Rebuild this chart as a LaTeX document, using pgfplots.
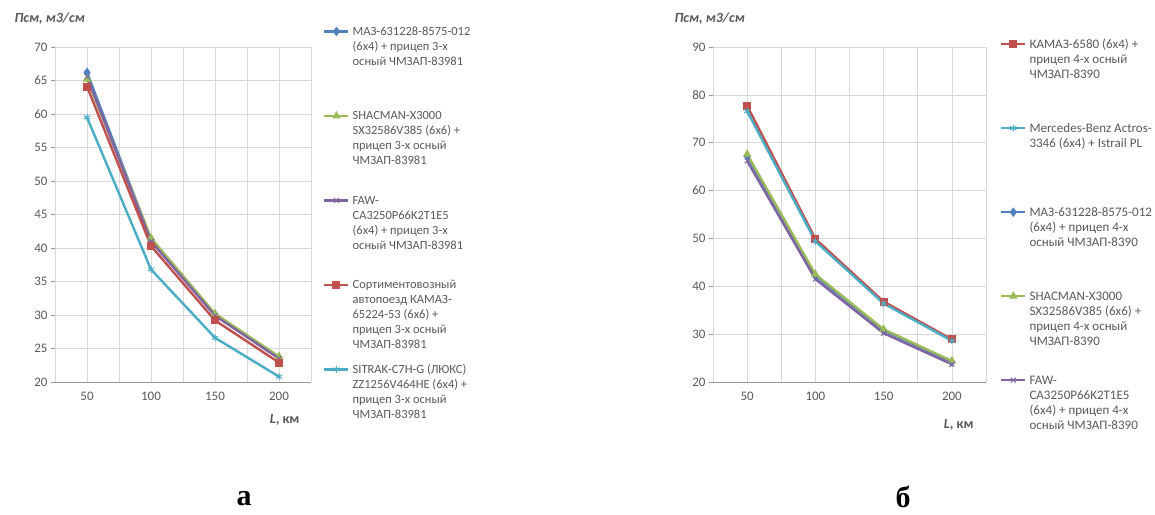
\documentclass[border=0pt]{standalone}
\usepackage{fontspec}
\setmainfont{Carlito}
\newfontfamily\capfont{Liberation Serif}
\usepackage{pgfplots}
\pgfplotsset{compat=1.18}
\definecolor{cblue}{HTML}{4F81BD}
\definecolor{cred}{HTML}{C0504D}
\definecolor{cgreen}{HTML}{9BBB59}
\definecolor{cpurple}{HTML}{8064A2}
\definecolor{caqua}{HTML}{4BACC6}
\definecolor{txt}{HTML}{595959}
\definecolor{gridc}{HTML}{D9D9D9}
\definecolor{axc}{HTML}{969696}
\newcommand\leg[1]{\begin{tabular}[t]{@{}l@{}}#1\end{tabular}}
\pgfplotsset{
  common/.style={
    scale only axis,
    xmin=-0.5, xmax=3.5,
    xtick={0,1,2,3}, xticklabels={50,100,150,200},
    xmajorgrids=true, ymajorgrids=true,
    grid style={draw=gridc, line width=0.6pt},
    xtick style={draw=none},
    extra x ticks={-0.5,0.5,1.5,2.5,3.5},
    extra x tick labels={},
    extra x tick style={grid=major, tick style={draw=axc, line width=0.6pt}},
    ytick style={draw=axc, line width=0.6pt},
    tick align=outside, major tick length=4pt,
    axis lines*=left,
    axis line style={draw=axc, line width=0.7pt, -},
    tick label style={font=\fontsize{13}{14}\selectfont, color=txt},
    xticklabel style={yshift=-3pt},
    /pgf/number format/assume math mode=true,
    legend cell align=left,
    every axis plot/.append style={line width=2.4pt, mark options={solid, line width=1pt}},
  }
}
\begin{document}
\begin{tikzpicture}
\path (0pt,0pt) rectangle (1155pt,-514pt);
% ---------- chart a ----------
\begin{axis}[common,
  at={(55pt,-382pt)}, anchor=south west,
  width=256pt, height=335pt,
  ymin=20, ymax=70, ytick={20,25,...,70},
  legend style={at={(1.047,1.059)}, anchor=north west, draw=none, fill=none,
    row sep=76.5pt, inner sep=0pt, column sep=3pt,
    nodes={inner sep=0pt, text height=8pt, text depth=0pt},
    font=\fontsize{12.5}{15}\selectfont\color{txt}},
  legend image code/.code={\draw[mark repeat=2,mark phase=2,#1] plot coordinates {(0pt,0pt)(12pt,0pt)(24pt,0pt)};},
]
\addplot[color=cblue, mark=diamond*, mark size=4pt] coordinates {(0,66.2)(1,41.3)(2,30.0)(3,23.6)};
\addlegendentry{\leg{МАЗ-631228-8575-012\\(6х4) + прицеп 3-х\\осный ЧМЗАП-83981}}
\addplot[color=cgreen, mark=triangle*, mark size=4pt] coordinates {(0,65.2)(1,41.5)(2,30.2)(3,23.8)};
\addlegendentry{\leg{SHACMAN-X3000\\SX32586V385 (6х6) +\\прицеп 3-х осный\\ЧМЗАП-83981}}
\addplot[color=cpurple, mark=x, mark size=3.5pt] coordinates {(0,65.6)(1,41.0)(2,29.9)(3,23.5)};
\addlegendentry{\leg{FAW-\\CA3250P66K2T1E5\\(6х4) + прицеп 3-х\\осный ЧМЗАП-83981}}
\addplot[color=cred, mark=square*, mark size=3.5pt] coordinates {(0,64.1)(1,40.3)(2,29.2)(3,22.9)};
\addlegendentry{\leg{Сортиментовозный\\автопоезд КАМАЗ-\\65224-53 (6х6) +\\прицеп 3-х осный\\ЧМЗАП-83981}}
\addplot[color=caqua, mark=asterisk, mark size=3.5pt] coordinates {(0,59.5)(1,36.8)(2,26.6)(3,20.8)};
\addlegendentry{\leg{SITRAK-C7H-G (ЛЮКС)\\ZZ1256V464HE (6х4) +\\прицеп 3-х осный\\ЧМЗАП-83981}}
\end{axis}
% ---------- chart b ----------
\begin{axis}[common,
  at={(713pt,-382pt)}, anchor=south west,
  width=273pt, height=335pt,
  ymin=20, ymax=90, ytick={20,30,...,90},
  legend style={at={(1.051,1.021)}, anchor=north west, draw=none, fill=none,
    row sep=76pt, inner sep=0pt, column sep=3pt,
    nodes={inner sep=0pt, text height=8pt, text depth=0pt},
    font=\fontsize{13}{15}\selectfont\color{txt}},
  legend image code/.code={\draw[mark repeat=2,mark phase=2,#1] plot coordinates {(0pt,0pt)(12pt,0pt)(24pt,0pt)};},
]
\addplot[color=cred, mark=square*, mark size=3.5pt] coordinates {(0,77.7)(1,49.9)(2,36.8)(3,28.9)};
\addlegendentry{\leg{КАМАЗ-6580 (6х4) +\\прицеп 4-х осный\\ЧМЗАП-8390}}
\addplot[color=caqua, mark=asterisk, mark size=3.5pt] coordinates {(0,76.6)(1,49.4)(2,36.4)(3,28.6)};
\addlegendentry{\leg{Mercedes-Benz Actros-\\3346 (6х4) + Istrail PL}}
\addplot[color=cblue, mark=diamond*, mark size=4pt] coordinates {(0,67.2)(1,42.2)(2,30.8)(3,24.2)};
\addlegendentry{\leg{МАЗ-631228-8575-012\\(6х4) + прицеп 4-х\\осный ЧМЗАП-8390}}
\addplot[color=cgreen, mark=triangle*, mark size=4pt] coordinates {(0,67.6)(1,42.5)(2,31.0)(3,24.4)};
\addlegendentry{\leg{SHACMAN-X3000\\SX32586V385 (6х6) +\\прицеп 4-х осный\\ЧМЗАП-8390}}
\addplot[color=cpurple, mark=x, mark size=3.5pt] coordinates {(0,66.2)(1,41.5)(2,30.2)(3,23.7)};
\addlegendentry{\leg{FAW-\\CA3250P66K2T1E5\\(6х4) + прицеп 4-х\\осный ЧМЗАП-8390}}
\end{axis}
% ---------- labels ----------
\node[anchor=west, font=\bfseries\itshape\fontsize{14}{16}\selectfont, text=txt] at (11pt,-19pt) {Псм, м3/см};
\node[anchor=west, font=\bfseries\itshape\fontsize{14}{16}\selectfont, text=txt] at (671pt,-19pt) {Псм, м3/см};
\node[anchor=east, font=\bfseries\fontsize{14}{16}\selectfont, text=txt] at (303pt,-420pt) {\textit{L}, км};
\node[anchor=east, font=\bfseries\fontsize{14}{16}\selectfont, text=txt] at (977pt,-425pt) {\textit{L}, км};
\node[anchor=base, font=\capfont\bfseries\fontsize{30}{32}\selectfont] at (244pt,-505pt) {а};
\node[anchor=base, font=\capfont\bfseries\fontsize{30}{32}\selectfont] at (903pt,-507pt) {б};
\end{tikzpicture}
\end{document}
